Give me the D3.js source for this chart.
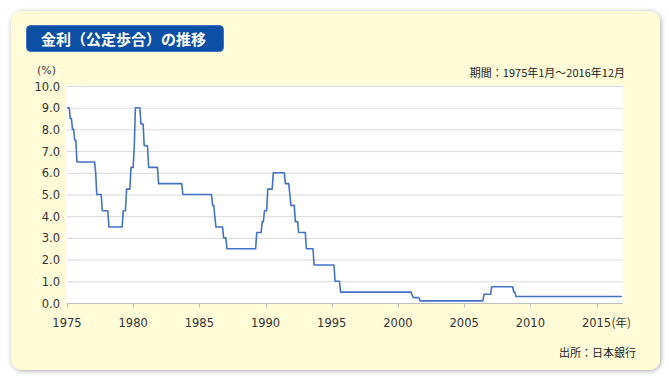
<!DOCTYPE html>
<html>
<head>
<meta charset="utf-8">
<script src="https://cdn.jsdelivr.net/npm/d3@7/dist/d3.min.js"></script>
<style>
  html, body { margin: 0; padding: 0; background: #ffffff; }
  svg { display: block; }
  text { font-family: "DejaVu Sans", Verdana, sans-serif; }
  .jp { font-family: "Noto Sans CJK JP", "Noto Sans", sans-serif; }
</style>
</head>
<body>
<svg id="chart" width="669" height="381"></svg>
<script>
// 公定歩合の変更 [年, 月, 金利%]
var rateChanges = [
  [1975, 1, 9.0], [1975, 4, 8.5], [1975, 6, 8.0], [1975, 8, 7.5], [1975, 10, 6.5],
  [1977, 3, 6.0], [1977, 4, 5.0], [1977, 9, 4.25], [1978, 3, 3.5],
  [1979, 4, 4.25], [1979, 7, 5.25], [1979, 11, 6.25], [1980, 2, 7.25], [1980, 3, 9.0],
  [1980, 8, 8.25], [1980, 11, 7.25], [1981, 3, 6.25], [1981, 12, 5.5],
  [1983, 10, 5.0], [1986, 1, 4.5], [1986, 3, 4.0], [1986, 4, 3.5], [1986, 11, 3.0], [1987, 2, 2.5],
  [1989, 5, 3.25], [1989, 10, 3.75], [1989, 12, 4.25], [1990, 3, 5.25], [1990, 8, 6.0],
  [1991, 7, 5.5], [1991, 11, 5.0], [1991, 12, 4.5], [1992, 4, 3.75], [1992, 7, 3.25],
  [1993, 2, 2.5], [1993, 9, 1.75], [1995, 4, 1.0], [1995, 9, 0.5],
  [2001, 2, 0.35], [2001, 3, 0.25], [2001, 9, 0.1],
  [2006, 7, 0.4], [2007, 2, 0.75], [2008, 10, 0.5], [2008, 12, 0.3]
];
var startYear = 1975, endYear = 2016;
var yTicks = [0, 1, 2, 3, 4, 5, 6, 7, 8, 9, 10];
var xTicks = [1975, 1980, 1985, 1990, 1995, 2000, 2005, 2010, 2015];
var titleText = "金利（公定歩合）の推移";
var periodText = "期間：1975年1月～2016年12月";
var sourceText = "出所：日本銀行";

// 月次系列（変更がない月は前月の値を据え置き）
var monthly = [];
(function(){
  var idx = 0, cur = rateChanges[0][2];
  for(var y = startYear; y <= endYear; y++){
    for(var m = 1; m <= 12; m++){
      while(idx < rateChanges.length && (rateChanges[idx][0] < y || (rateChanges[idx][0] == y && rateChanges[idx][1] <= m))){
        cur = rateChanges[idx][2];
        idx++;
      }
      monthly.push({t: y + (m - 1) / 12, v: cur});
    }
  }
})();

var svg = d3.select("#chart");

var defs = svg.append("defs");
var f = defs.append("filter").attr("id", "shadow").attr("x", "-5%").attr("y", "-5%").attr("width", "110%").attr("height", "110%");
f.append("feGaussianBlur").attr("in", "SourceAlpha").attr("stdDeviation", 2.5);
f.append("feOffset").attr("dx", 1).attr("dy", 1).attr("result", "b");
f.append("feComponentTransfer").append("feFuncA").attr("type", "linear").attr("slope", 0.35);
var fm = f.append("feMerge");
fm.append("feMergeNode");
fm.append("feMergeNode").attr("in", "SourceGraphic");

// カード
svg.append("rect")
  .attr("x", 11).attr("y", 11).attr("width", 649).attr("height", 359)
  .attr("rx", 11).attr("fill", "#fffcd7")
  .attr("filter", "url(#shadow)");

// タイトル
svg.append("rect")
  .attr("x", 26.5).attr("y", 25.5).attr("width", 197).attr("height", 26)
  .attr("rx", 4).attr("fill", "#0d4fa5").attr("stroke", "#3f73c2").attr("stroke-width", 1);
svg.append("text").attr("class", "jp")
  .attr("x", 41).attr("y", 44.5)
  .attr("fill", "#ffffff").attr("font-size", 15).attr("font-weight", "bold")
  .text(titleText);

var margin = {left: 67, right: 623, top: 86, bottom: 303};

var x = d3.scaleLinear().domain([startYear, endYear + 1]).range([margin.left, margin.right]);
var y = d3.scaleLinear().domain([0, 10]).range([margin.bottom, margin.top]);

// プロット領域
svg.append("rect")
  .attr("x", margin.left - 1).attr("y", margin.top - 1)
  .attr("width", margin.right - margin.left + 1).attr("height", margin.bottom - margin.top + 1)
  .attr("fill", "#ffffff");

// グリッド
svg.append("g").selectAll("line").data(yTicks.filter(function(d){ return d > 0; })).enter().append("line")
  .attr("x1", margin.left).attr("x2", margin.right)
  .attr("y1", function(d){ return y(d) + 0.5; }).attr("y2", function(d){ return y(d) + 0.5; })
  .attr("stroke", "#d9d9d9").attr("stroke-width", 1);

// Y軸ラベル
svg.append("g").selectAll("text").data(yTicks).enter().append("text")
  .attr("x", 60).attr("y", function(d){ return y(d) + 4.5; })
  .attr("text-anchor", "end").attr("font-size", 11.5).attr("fill", "#333")
  .text(function(d){ return d3.format(".1f")(d); });
svg.append("text").attr("x", 37).attr("y", 74).attr("font-size", 11).attr("fill", "#333").text("(%)");

// X軸
var xAxis = svg.append("g").attr("transform", "translate(0," + (margin.bottom + 0.5) + ")");
xAxis.append("line").attr("x1", margin.left).attr("x2", margin.right).attr("stroke", "#bfbfbf");
xAxis.selectAll("line.tick").data(xTicks).enter().append("line").attr("class", "tick")
  .attr("x1", function(d){ return Math.round(x(d)) + 0.5; }).attr("x2", function(d){ return Math.round(x(d)) + 0.5; })
  .attr("y1", 0).attr("y2", 4).attr("stroke", "#bfbfbf");
xAxis.selectAll("text").data(xTicks).enter().append("text")
  .attr("x", function(d){ return x(d); }).attr("y", 23)
  .attr("text-anchor", "middle").attr("font-size", 11.5).attr("fill", "#333")
  .text(function(d){ return d; });
svg.append("text").attr("class", "jp")
  .attr("x", x(2015) + 15).attr("y", margin.bottom + 23.5)
  .attr("font-size", 11.5).attr("fill", "#333").text("(年)");

// 折れ線
var line = d3.line().x(function(d){ return x(d.t); }).y(function(d){ return y(d.v); });
svg.append("path").datum(monthly)
  .attr("d", line).attr("fill", "none")
  .attr("stroke", "#4472c9").attr("stroke-width", 1.6).attr("stroke-linejoin", "round");

// 注記
svg.append("text").attr("class", "jp")
  .attr("x", 625).attr("y", 77).attr("text-anchor", "end")
  .attr("font-size", 11).attr("fill", "#222").text(periodText);
svg.append("text").attr("class", "jp")
  .attr("x", 636).attr("y", 357).attr("text-anchor", "end")
  .attr("font-size", 11).attr("fill", "#222").text(sourceText);
</script>
</body>
</html>
